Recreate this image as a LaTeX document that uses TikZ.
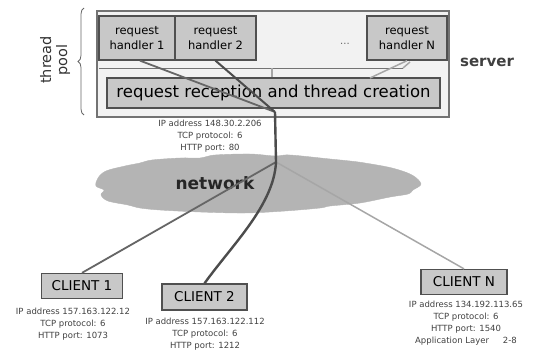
\documentclass[tikz,border=0pt]{standalone}
\usepackage{fontspec}
\setmainfont{DejaVu Sans}
\usetikzlibrary{decorations.pathreplacing}
\definecolor{boxfill}{HTML}{C8C8C8}
\definecolor{boxline}{HTML}{505050}
\definecolor{srvfill}{HTML}{F2F2F2}
\definecolor{cloudfill}{HTML}{B4B4B4}
\begin{document}
\begin{tikzpicture}[x=1pt,y=-1pt,
  gbox/.style={draw=boxline, fill=boxfill, line width=1.3pt, inner sep=0pt, align=center},
  hbox/.style={gbox, minimum height=44pt, font=\fontsize{11.5}{15}\selectfont},
  cbox/.style={gbox, font=\fontsize{13.5}{14}\selectfont},
  info/.style={align=center, text=black!75, font=\fontsize{8.5}{12}\selectfont},
  darkline/.style={draw=black!70, line width=2pt},
  midline/.style={draw=black!60, line width=1.8pt},
  lightline/.style={draw=black!35, line width=1.5pt}]
\useasboundingbox (0,0) rectangle (535,351);
% server frame
\draw[draw=black!55, fill=srvfill, line width=1.3pt] (97,11) rectangle (449,117);
\draw[draw=black!55, line width=1pt] (99,68) -- (403,68);
\draw[lightline] (403,68) -- (410,62);
% handlers
\node[hbox, minimum width=76pt] (h1) at (137,38) {request\\handler 1};
\node[hbox, minimum width=81pt] (h2) at (215.5,38) {request\\handler 2};
\node[hbox, minimum width=80pt] (hN) at (407,38) {request\\handler N};
\node[font=\fontsize{10}{10}\selectfont, text=black!60] (dots) at (345,44) {...};
% reception
\node[gbox, minimum width=333pt, minimum height=30pt, font=\fontsize{16.5}{17}\selectfont] (rec) at (273.5,93) {request reception and thread creation};
% labels
\node[rotate=90, align=center, font=\fontsize{14.5}{16}\selectfont, text=black!80] (pool) at (55,60) {thread\\pool};
\draw[decorate, decoration={brace, amplitude=6pt}, draw=black!60, line width=0.8pt] (84,115) -- (84,8);
\node[font=\bfseries\fontsize{15}{16}\selectfont, text=black!75] (srv) at (487,62) {server};
\node[info] (sinfo) at (210,136) {IP address 148.30.2.206\\TCP protocol: 6\\HTTP port: 80};
% cloud
\path[fill=cloudfill, draw=cloudfill] plot[smooth cycle, tension=0.55] coordinates {
  (98,178) (106,171) (125,166) (140,163) (152,160) (180,158) (200,158) (215,155) (250,154)
  (275,156) (290,155) (330,159) (350,161) (365,163) (392,168) (412,175) (421,184) (413,190)
  (408,194) (390,197) (360,203) (330,206) (320,208) (285,211) (245,213) (200,212) (160,210)
  (140,208) (128,205) (108,201) (101,195) (104,190) (96,186)};
\node[font=\bfseries\fontsize{17}{18}\selectfont, text=black!85] (net) at (215,183) {network};
% clients
\node[cbox, minimum width=81pt, minimum height=25pt] (c1) at (82,286) {CLIENT 1};
\node[cbox, minimum width=85pt, minimum height=26pt] (c2) at (204.5,297) {CLIENT 2};
\node[cbox, minimum width=86pt, minimum height=25pt] (cN) at (464,282) {CLIENT N};
\node[info] (i1) at (73,324) {IP address 157.163.122.12\\TCP protocol: 6\\HTTP port: 1073};
\node[info] (i2) at (205,334) {IP address 157.163.122.112\\TCP protocol: 6\\HTTP port: 1212};
\node[info] (iN) at (466,323) {IP address 134.192.113.65\\TCP protocol: 6\\HTTP port: 1540\\Application Layer \quad\ 2-8};
% connectors
\coordinate (j) at (275,112);
\coordinate (k) at (276,162);
\coordinate (r1) at (272,68);
\coordinate (rN) at (370,78);
\draw[lightline] (r1) -- (r1 |- rec.north);
\draw[lightline] (hN.south) -- (rN);
\draw[lightline] (k) -- (cN.north);
\draw[midline] (k) -- (c1.north);
\draw[midline] ([xshift=3pt]h1.south) -- (j);
\draw[darkline] (h2.south) -- (j);
\draw[darkline, line width=2.4pt] (j) -- (k) .. controls (274,205) and (232,245) .. (c2.north);
\end{tikzpicture}
\end{document}
